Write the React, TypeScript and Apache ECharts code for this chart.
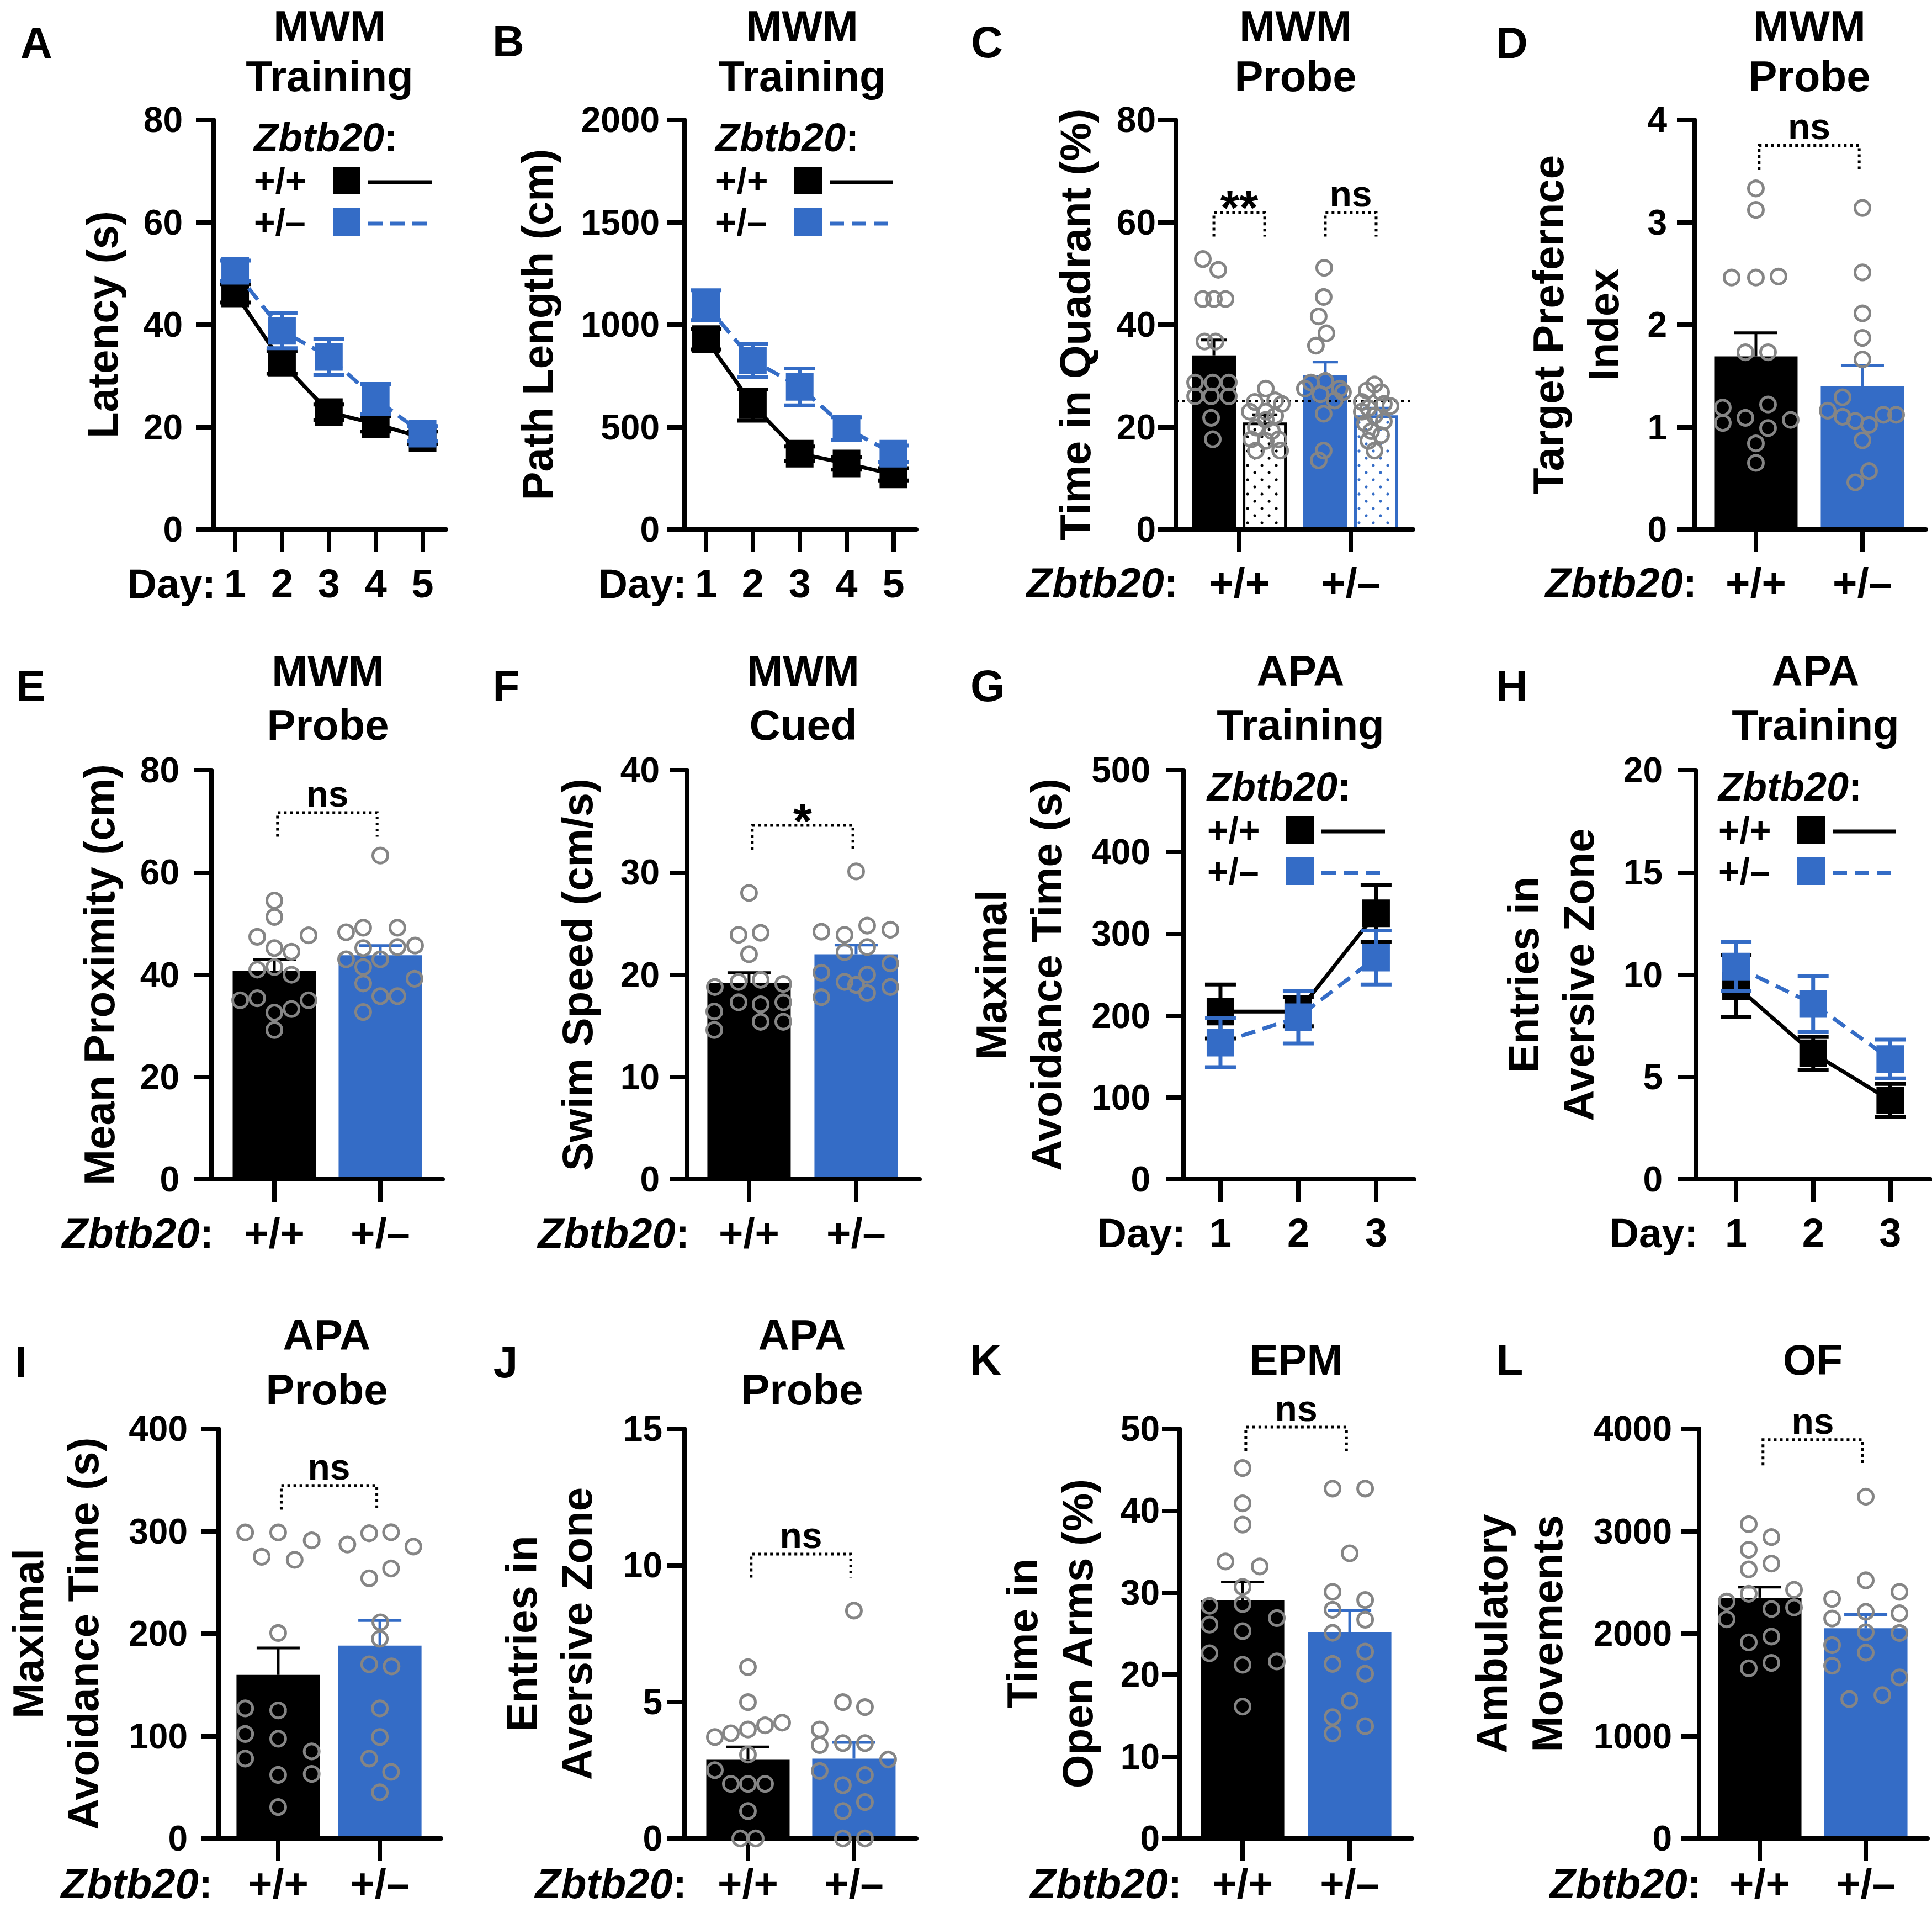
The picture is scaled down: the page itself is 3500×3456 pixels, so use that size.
import React, { useEffect, useRef } from "react";
import * as echarts from "echarts";

const W = 3500;
const H = 3456;
const BLACK = "#000000";
const BLUE = "#346cc6";
const GRAY = "#858585";
const FONT = "'Liberation Sans', Arial, Helvetica, sans-serif";

// ---------------- data ----------------
const genotypes = ["+/+", "+/–"];
const mwmDays = [1, 2, 3, 4, 5];
const apaDays = [1, 2, 3];

// A: MWM training latency (s)
const latencyWT = [46.1, 32.6, 22.9, 20.6, 17.9];
const latencyWTSem = [1.8, 2.2, 1.5, 1.5, 1.2];
const latencyHet = [50.5, 38.8, 33.7, 25.5, 18.7];
const latencyHetSem = [2.0, 3.4, 3.5, 2.9, 1.5];

// B: MWM training path length (cm)
const pathWT = [929, 607, 370, 322, 269];
const pathWTSem = [50, 76, 35, 30, 30];
const pathHet = [1095, 825, 696, 493, 370];
const pathHetSem = [73, 80, 90, 55, 40];

// C: MWM probe, time in quadrant (%): [target +/+, other +/+, target +/-, other +/-]
const quadrantMeans = [34.0, 20.9, 30.1, 22.3];
const quadrantSem = [3.0, 1.5, 2.6, 1.4];
const quadTargetWT = [52.8, 50.7, 45.0, 45.0, 45.0, 36.7, 36.7, 28.7, 28.7, 28.7, 26.0, 26.0, 26.0, 21.8, 17.6];
const quadOtherWT = [27.5, 24.9, 25.2, 23.0, 24.5, 23.0, 19.9, 19.2, 17.6, 17.6, 17.3, 15.4, 15.4, 21.4, 22.2];
const quadTargetHet = [51.1, 45.4, 41.6, 38.3, 35.9, 28.7, 29.0, 27.5, 27.5, 26.4, 25.2, 26.8, 22.6, 15.4, 13.5];
const quadOtherHet = [28.3, 27.1, 26.8, 24.9, 24.1, 23.7, 24.5, 22.2, 20.7, 21.1, 19.2, 18.4, 17.3, 15.4, 23.0];
const chanceLevel = 25;
const sigC = ["**", "ns"];

// D: target preference index
const tpiMeans = [1.69, 1.4];
const tpiSem = [0.23, 0.2];
const tpiWT = [3.33, 3.12, 2.46, 2.46, 2.47, 1.73, 1.73, 1.19, 1.22, 1.04, 1.09, 1.07, 0.99, 0.84, 0.65];
const tpiHet = [3.14, 2.51, 2.11, 1.87, 1.66, 1.29, 1.16, 1.1, 1.06, 1.02, 1.12, 1.12, 0.87, 0.57, 0.46];

// E: mean proximity (cm)
const proxMeans = [40.7, 43.8];
const proxSem = [2.3, 1.9];
const proxWT = [54.5, 51.3, 47.4, 47.7, 45.2, 44.5, 41.0, 41.5, 40.0, 35.0, 35.4, 35.0, 32.6, 33.3, 29.2];
const proxHet = [63.3, 48.3, 49.2, 49.2, 45.2, 45.4, 45.7, 43.0, 43.0, 41.5, 38.3, 39.2, 35.8, 35.8, 32.7];

// F: swim speed (cm/s)
const speedMeans = [19.2, 22.0];
const speedSem = [1.0, 0.9];
const speedWT = [28.0, 23.9, 24.1, 22.0, 18.8, 19.3, 19.5, 19.1, 17.3, 17.1, 16.4, 17.3, 14.6, 15.4, 15.4];
const speedHet = [30.1, 24.2, 23.9, 24.8, 24.4, 22.2, 22.7, 20.2, 19.0, 20.0, 21.1, 17.8, 18.2, 18.8, 19.3];

// G: APA training maximal avoidance time (s)
const avoidWT = [205, 205, 325];
const avoidWTSem = [33, 18, 35];
const avoidHet = [167, 198, 271];
const avoidHetSem = [30, 32, 33];

// H: APA training entries in aversive zone
const entriesWT = [9.45, 6.16, 3.86];
const entriesWTSem = [1.5, 0.8, 0.8];
const entriesHet = [10.4, 8.57, 5.88];
const entriesHetSem = [1.2, 1.37, 0.95];

// I: APA probe maximal avoidance time (s)
const probeAvoidMeans = [159.7, 188.3];
const probeAvoidSem = [26.3, 24.5];
const probeAvoidWT = [298.8, 298.8, 291, 275, 272, 200.6, 127, 125, 102, 97.4, 85, 78, 63, 62, 30.6];
const probeAvoidHet = [287, 298, 299, 285, 263.6, 254, 211, 195, 170, 168, 127, 99, 78, 65, 45];

// J: APA probe entries in aversive zone
const probeEntryMeans = [2.88, 2.92];
const probeEntrySem = [0.47, 0.6];
const probeEntryWT = [6.27, 4.99, 3.71, 3.85, 3.99, 4.14, 4.24, 3.07, 2.5, 2.0, 2.0, 2.0, 1.0, 0, 0];
const probeEntryHet = [8.34, 4.99, 4.81, 3.99, 3.42, 3.49, 3.49, 2.89, 2.47, 2.32, 1.95, 1.33, 1.0, 0, 0];

// K: EPM time in open arms (%)
const openArmMeans = [29.1, 25.2];
const openArmSem = [2.2, 2.6];
const openArmWT = [45.2, 40.9, 38.3, 33.8, 33.2, 30.7, 28.4, 28.6, 26.1, 26.9, 25.3, 22.6, 21.2, 21.6, 16.1];
const openArmHet = [42.7, 42.7, 34.8, 30.1, 29.1, 27.9, 26.7, 25.1, 22.8, 21.3, 20.1, 16.8, 14.8, 13.7, 12.8];

// L: OF ambulatory movements
const ambulatoryMeans = [2351, 2052];
const ambulatorySem = [103, 134];
const ambulatoryWT = [3068, 2942, 2819, 2684, 2627, 2389, 2428, 2313, 2255, 2240, 2140, 1971, 1914, 1714, 1661];
const ambulatoryHet = [3337, 2520, 2339, 2408, 2148, 2213, 2198, 2013, 2006, 1887, 1814, 1687, 1572, 1361, 1400];

// ---------------- layout (pixels) ----------------
// horizontal scatter offsets of the individual points, px
const jitQuadTargetWT = [-20, 8, -20, 0, 21, -17, 3, -34, -2, 27, -34, -5, 27, -5, -2];
const jitQuadOtherWT = [2, -18, 19, -27, 31, 2, -16, 13, -24, 25, 2, -16, 28, 2, 19];
const jitQuadTargetHet = [-2, -3, -12, 2, -17, -26, 0, 26, -37, -9, 17, 32, -3, -3, -12];
const jitQuadOtherHet = [-3, -17, 9, -26, 26, -14, 14, -3, -20, 14, -9, 9, -14, -3, -26];
const jitTpiWT = [0, 0, -44, 0, 41, -19, 22, -60, 22, -60, -19, 63, 22, 0, 0];
const jitTpiHet = [0, 0, 0, 0, 0, -36, -63, -36, -13, 12, 38, 61, 0, 12, -13];
const jitProxWT = [0, 0, -31, 62, 0, 31, -31, 0, 31, -62, -31, 62, 0, 31, 0];
const jitProxHet = [0, -62, -31, 31, -31, 31, 63, 0, -62, -31, -31, 62, 0, 31, -31];
const jitSpeedWT = [0, -19, 21, 0, -62, -19, 21, 62, -19, 21, -63, 62, -63, 21, 62];
const jitSpeedHet = [0, -63, -21, 20, 62, -21, 20, -63, 0, 20, 62, -63, 20, 62, -21];
const jitProbeAvoidWT = [-62, 0, 63, -31, 31, 0, -62, 0, -62, 0, 63, -62, 63, 0, 0];
const jitProbeAvoidHet = [-61, -20, 21, 63, 21, -20, 1, 0, -20, 22, 0, 0, -20, 21, 0];
const jitProbeEntryWT = [0, 0, -60, -31, 0, 31, 62, 0, -60, -31, 0, 31, 0, -14, 14];
const jitProbeEntryHet = [0, -20, 20, -62, -62, -20, 20, 62, -62, 20, -20, 20, -20, -20, 20];
const jitOpenArmWT = [0, 0, 0, -31, 31, 0, -60, 0, -60, 62, 0, -60, 0, 62, 0];
const jitOpenArmHet = [-31, 28, 0, -31, 28, -31, 28, -31, 28, -31, 28, 0, -31, 28, -31];
const jitAmbWT = [-20, 21, -20, 21, -20, -20, 62, -60, 62, 21, -60, 21, -20, 21, -20];
const jitAmbHet = [0, 0, -61, 61, -61, 0, 61, 0, 61, -61, 0, -61, 61, -30, 30];

const panelA = { letter: "A", letterPos: [66, 77], title: ["MWM", "Training"], titlePos: [597, 47, 138], box: { left: 387, top: 217, width: 421, height: 742 }, xMin: 0.54, xMax: 5.5, yMax: 80, yInt: 20, yName: "Latency (s)", nameGap: 151, yLabMargin: 56, xOffset: 98, prefix: "day", legend: [460, 249] };
const panelB = { letter: "B", letterPos: [921, 74], title: ["MWM", "Training"], titlePos: [1453, 47, 138], box: { left: 1240, top: 217, width: 420, height: 742 }, xMin: 0.54, xMax: 5.49, yMax: 2000, yInt: 500, yName: "Path Length (cm)", nameGap: 216, yLabMargin: 45, xOffset: 98, prefix: "day", legend: [1296, 249] };
const panelC = { letter: "C", letterPos: [1788, 76], title: ["MWM", "Probe"], titlePos: [2347, 47, 138], box: { left: 2130, top: 217, width: 430, height: 742 }, xMin: 0.43, xMax: 2.56, yMax: 80, yInt: 20, yName: "Time in Quadrant (%)", nameGap: 132, yLabMargin: 36, xOffset: 96, prefix: "geno" };
const panelD = { letter: "D", letterPos: [2739, 77], title: ["MWM", "Probe"], titlePos: [3278, 47, 138], box: { left: 3070, top: 217, width: 419, height: 742 }, xMin: 0.425, xMax: 2.596, yMax: 4, yInt: 1, yName: "Target Prefernce\nIndex", nameGap: 115, yLabMargin: 50, xOffset: 96, prefix: "geno" };
const panelE = { letter: "E", letterPos: [56, 1242], title: ["MWM", "Probe"], titlePos: [594, 1215, 1313], box: { left: 383, top: 1395, width: 419, height: 741 }, xMin: 0.406, xMax: 2.589, yMax: 80, yInt: 20, yName: "Mean Proximity (cm)", nameGap: 153, yLabMargin: 58, xOffset: 97, prefix: "geno" };
const panelF = { letter: "F", letterPos: [917, 1242], title: ["MWM", "Cued"], titlePos: [1455, 1215, 1313], box: { left: 1245, top: 1395, width: 421, height: 741 }, xMin: 0.423, xMax: 2.593, yMax: 40, yInt: 10, yName: "Swim Speed (cm/s)", nameGap: 149, yLabMargin: 50, xOffset: 97, prefix: "geno" };
const panelG = { letter: "G", letterPos: [1789, 1242], title: ["APA", "Training"], titlePos: [2356, 1215, 1313], box: { left: 2144, top: 1395, width: 418, height: 741 }, xMin: 0.525, xMax: 3.49, yMax: 500, yInt: 100, yName: "Maximal\nAvoidance Time (s)", nameGap: 198, yLabMargin: 60, xOffset: 97, prefix: "day", legend: [2187, 1425] };
const panelH = { letter: "H", letterPos: [2739, 1242], title: ["APA", "Training"], titlePos: [3289, 1215, 1313], box: { left: 3072, top: 1395, width: 425, height: 741 }, xMin: 0.477, xMax: 3.52, yMax: 20, yInt: 5, yName: "Entries in\nAversive Zone", nameGap: 162, yLabMargin: 60, xOffset: 97, prefix: "day", legend: [3113, 1425] };
const panelI = { letter: "I", letterPos: [38, 2467], title: ["APA", "Probe"], titlePos: [592, 2418, 2517], box: { left: 381, top: 2588, width: 418, height: 742 }, xMin: 0.414, xMax: 2.602, yMax: 400, yInt: 100, yName: "Maximal\nAvoidance Time (s)", nameGap: 195, yLabMargin: 56, xOffset: 81, prefix: "geno" };
const panelJ = { letter: "J", letterPos: [916, 2467], title: ["APA", "Probe"], titlePos: [1453, 2418, 2517], box: { left: 1240, top: 2588, width: 420, height: 742 }, xMin: 0.401, xMax: 2.589, yMax: 15, yInt: 5, yName: "Entries in\nAversive Zone", nameGap: 145, yLabMargin: 40, xOffset: 81, prefix: "geno" };
const panelK = { letter: "K", letterPos: [1786, 2463], title: ["EPM"], titlePos: [2348, 2463], box: { left: 2137, top: 2588, width: 421, height: 742 }, xMin: 0.412, xMax: 2.582, yMax: 50, yInt: 10, yName: "Time in\nOpen Arms (%)", nameGap: 135, yLabMargin: 36, xOffset: 81, prefix: "geno" };
const panelL = { letter: "L", letterPos: [2735, 2463], title: ["OF"], titlePos: [3284, 2463], box: { left: 3078, top: 2588, width: 414, height: 742 }, xMin: 0.427, xMax: 2.583, yMax: 4000, yInt: 1000, yName: "Ambulatory\nMovements", nameGap: 225, yLabMargin: 49, xOffset: 81, prefix: "geno" };

function buildOption() {
  const grid: any[] = [];
  const xAxis: any[] = [];
  const yAxis: any[] = [];
  const series: any[] = [];
  const graphic: any[] = [];

  const boldText = (text: string, x: number, y: number, size: number, extra: any = {}) => ({
    type: "text",
    x,
    y,
    silent: true,
    z: 100,
    style: {
      text,
      fill: BLACK,
      fontSize: size,
      fontWeight: "bold",
      fontFamily: FONT,
      lineHeight: Math.round(size * 0.92),
      align: "center",
      verticalAlign: "middle",
      textAlign: "center",
      textVerticalAlign: "middle",
      ...extra,
    },
  });

  const makeGenoRich = (size: number) => ({
    i: { fontStyle: "italic", fontWeight: "bold", fontSize: size, fontFamily: FONT, fill: BLACK, color: BLACK, lineHeight: Math.round(size * 0.9) },
    b: { fontWeight: "bold", fontSize: size, fontFamily: FONT, fill: BLACK, color: BLACK, lineHeight: Math.round(size * 0.9) },
  });

  function addCart(p: any, xTicks: number[], xLabels: string[], xLabelSize: number) {
    const gi = grid.length;
    grid.push({ left: p.box.left, top: p.box.top, width: p.box.width, height: p.box.height, containLabel: false });
    xAxis.push({
      gridIndex: gi,
      type: "value",
      min: p.xMin,
      max: p.xMax,
      z: 3,
      axisLine: { show: true, onZero: false, lineStyle: { color: BLACK, width: 8 } },
      axisTick: { show: true, inside: false, length: 41, lineStyle: { color: BLACK, width: 8 }, customValues: xTicks },
      axisLabel: {
        show: true,
        customValues: xTicks,
        formatter: (v: number) => {
          const k = xTicks.indexOf(v);
          return k >= 0 ? xLabels[k] : "";
        },
        margin: p.xOffset - 34,
        color: BLACK,
        fontSize: xLabelSize,
        lineHeight: 68,
        fontWeight: "bold",
        fontFamily: FONT,
      },
      splitLine: { show: false },
    });
    yAxis.push({
      gridIndex: gi,
      type: "value",
      min: 0,
      max: p.yMax,
      interval: p.yInt,
      z: 3,
      axisLine: { show: true, lineStyle: { color: BLACK, width: 8 } },
      axisTick: { show: true, inside: false, length: 32, lineStyle: { color: BLACK, width: 8 } },
      axisLabel: {
        margin: p.yLabMargin,
        color: BLACK,
        fontSize: 64,
        fontWeight: "bold",
        fontFamily: FONT,
        formatter: (v: number) => String(v),
      },
      splitLine: { show: false },
      name: p.yName,
      nameLocation: "middle",
      nameRotate: 90,
      nameGap: p.nameGap,
      nameTextStyle: { color: BLACK, fontSize: 78, fontWeight: "bold", fontFamily: FONT, lineHeight: 100 },
    });

    graphic.push(boldText(p.letter, p.letterPos[0], p.letterPos[1], 80));
    p.title.forEach((t: string, k: number) => {
      graphic.push(boldText(t, p.titlePos[0], p.titlePos[1 + k], 78, { lineHeight: 76 }));
    });
    const py = p.box.top + p.box.height + p.xOffset;
    const px = p.box.left + 4;
    if (p.prefix === "day") {
      graphic.push(boldText("Day:", px, py, 74, { align: "right", textAlign: "right", lineHeight: 68 }));
    } else {
      graphic.push(
        boldText("{i|Zbtb20}{b|:}", px, py, 76, { align: "right", textAlign: "right", rich: makeGenoRich(76), lineHeight: 68 })
      );
    }
    return gi;
  }

  function errSeries(gi: number, xs: number[], means: number[], sems: number[], colors: any, capW: number, lw: number, upOnly: boolean, z: number) {
    return {
      type: "custom",
      xAxisIndex: gi,
      yAxisIndex: gi,
      z,
      silent: true,
      data: xs.map((x, i) => [x, means[i], sems[i]]),
      encode: { x: 0, y: [1] },
      renderItem: (params: any, api: any) => {
        const x = api.value(0);
        const m = api.value(1);
        const s = api.value(2);
        const col = Array.isArray(colors) ? colors[params.dataIndex] : colors;
        const hi = api.coord([x, m + s]);
        const lo = api.coord([x, upOnly ? m : m - s]);
        const h = capW / 2;
        const st = { stroke: col, lineWidth: lw };
        const children: any[] = [
          { type: "line", shape: { x1: hi[0], y1: hi[1], x2: lo[0], y2: lo[1] }, style: st },
          { type: "line", shape: { x1: hi[0] - h, y1: hi[1], x2: hi[0] + h, y2: hi[1] }, style: st },
        ];
        if (!upOnly) {
          children.push({ type: "line", shape: { x1: lo[0] - h, y1: lo[1], x2: lo[0] + h, y2: lo[1] }, style: st });
        }
        return { type: "group", children };
      },
    };
  }

  function bracketSeries(gi: number, x1: number, x2: number, yTop: number, yLeg: number, label: string) {
    const isStar = label.indexOf("*") >= 0;
    return {
      type: "custom",
      xAxisIndex: gi,
      yAxisIndex: gi,
      z: 8,
      silent: true,
      clip: false,
      data: [[x1, x2, yTop, yLeg]],
      encode: { x: [0, 1], y: [2, 3] },
      renderItem: (params: any, api: any) => {
        const a = api.coord([api.value(0), api.value(3)]);
        const b = api.coord([api.value(0), api.value(2)]);
        const c = api.coord([api.value(1), api.value(2)]);
        const d = api.coord([api.value(1), api.value(3)]);
        const size = isStar ? 88 : 66;
        const dy = isStar ? -9 : -34;
        return {
          type: "group",
          children: [
            { type: "polyline", shape: { points: [a, b, c, d] }, style: { stroke: BLACK, lineWidth: 5, lineDash: [5, 6], fill: "none" } },
            {
              type: "text",
              x: (b[0] + c[0]) / 2,
              y: b[1] + dy,
              style: {
                text: label,
                fill: BLACK,
                fontSize: size,
                fontWeight: "bold",
                fontFamily: FONT,
                lineHeight: isStar ? 50 : 56,
                align: "center",
                verticalAlign: "middle",
                textAlign: "center",
                textVerticalAlign: "middle",
              },
            },
          ],
        };
      },
    };
  }

  function pointSeries(gi: number, p: any, center: number, values: number[], jit: number[]) {
    const unit = p.box.width / (p.xMax - p.xMin);
    return {
      type: "scatter",
      xAxisIndex: gi,
      yAxisIndex: gi,
      z: 6,
      silent: true,
      clip: false,
      symbol: "circle",
      symbolSize: 27,
      itemStyle: { color: "rgba(255,255,255,0)", borderColor: GRAY, borderWidth: 5, opacity: 1 },
      data: values.map((v, i) => [center + jit[i] / unit, v]),
    };
  }

  function linePanel(p: any, days: number[], wt: number[], wtSem: number[], het: number[], hetSem: number[]) {
    const gi = addCart(p, days, days.map(String), 72);
    series.push(errSeries(gi, days, wt, wtSem, BLACK, 56, 7, false, 4));
    series.push({
      type: "line",
      xAxisIndex: gi,
      yAxisIndex: gi,
      z: 5,
      silent: true,
      data: days.map((d, i) => [d, wt[i]]),
      symbol: "rect",
      symbolSize: 50,
      showSymbol: true,
      itemStyle: { color: BLACK, borderWidth: 0 },
      lineStyle: { color: BLACK, width: 7, type: "solid" },
    });
    series.push(errSeries(gi, days, het, hetSem, BLUE, 56, 7, false, 6));
    series.push({
      type: "line",
      xAxisIndex: gi,
      yAxisIndex: gi,
      z: 7,
      silent: true,
      data: days.map((d, i) => [d, het[i]]),
      symbol: "rect",
      symbolSize: 50,
      showSymbol: true,
      itemStyle: { color: BLUE, borderWidth: 0 },
      lineStyle: { color: BLUE, width: 7, type: [26, 14] },
    });
    // legend
    const [lx, ly] = p.legend;
    graphic.push(boldText("{i|Zbtb20}{b|:}", lx, ly, 72, { align: "left", textAlign: "left", rich: makeGenoRich(72), lineHeight: 64 }));
    const rows = [
      { label: genotypes[0], color: BLACK, dash: null, dy: 78 },
      { label: genotypes[1], color: BLUE, dash: [26, 14], dy: 153 },
    ];
    rows.forEach((r) => {
      const y = ly + r.dy;
      graphic.push(boldText(r.label, lx, y, 66, { align: "left", textAlign: "left", lineHeight: 60 }));
      graphic.push({ type: "rect", silent: true, z: 100, shape: { x: lx + 143, y: y - 25, width: 50, height: 50 }, style: { fill: r.color } });
      graphic.push({
        type: "line",
        silent: true,
        z: 100,
        shape: { x1: lx + 207, y1: y + 3, x2: lx + 322, y2: y + 3 },
        style: { stroke: r.color, lineWidth: 7, lineDash: r.dash || undefined },
      });
    });
  }

  function barPanel(p: any, means: number[], sems: number[], wt: number[], het: number[], jitWT: number[], jitHet: number[], bracket: any) {
    const gi = addCart(p, [1, 2], genotypes, 76);
    const xs = [1, 2];
    const colors = [BLACK, BLUE];
    series.push({
      type: "bar",
      xAxisIndex: gi,
      yAxisIndex: gi,
      z: 2,
      silent: true,
      barWidth: 151,
      data: xs.map((x, i) => ({ value: [x, means[i]], itemStyle: { color: colors[i] } })),
    });
    series.push(errSeries(gi, xs, means, sems, colors, 78, 5, true, 4));
    series.push(pointSeries(gi, p, 1, wt, jitWT));
    series.push(pointSeries(gi, p, 2, het, jitHet));
    series.push(bracketSeries(gi, 1.03, 1.97, bracket[0], bracket[1], bracket[2]));
  }

  // ---- row 1
  linePanel(panelA, mwmDays, latencyWT, latencyWTSem, latencyHet, latencyHetSem);
  linePanel(panelB, mwmDays, pathWT, pathWTSem, pathHet, pathHetSem);

  // C: four bars
  {
    const p = panelC;
    const gi = addCart(p, [1, 2], genotypes, 76);
    const off = 0.228;
    const xs = [1 - off, 1 + off, 2 - off, 2 + off];
    const cols = [BLACK, BLACK, BLUE, BLUE];
    const styles = [
      { color: BLACK },
      { color: "#ffffff", borderColor: BLACK, borderWidth: 5 },
      { color: BLUE },
      { color: "#ffffff", borderColor: BLUE, borderWidth: 5 },
    ];
    series.push({
      type: "bar",
      xAxisIndex: gi,
      yAxisIndex: gi,
      z: 2,
      silent: true,
      barWidth: 80,
      data: xs.map((x, i) => ({ value: [x, quadrantMeans[i]], itemStyle: styles[i] })),
      markLine: {
        silent: true,
        symbol: ["none", "none"],
        label: { show: false },
        lineStyle: { color: BLACK, type: [5, 7], width: 4 },
        data: [{ yAxis: chanceLevel }],
      },
    });
    // dotted texture inside the "other quadrants" bars
    series.push({
      type: "custom",
      xAxisIndex: gi,
      yAxisIndex: gi,
      z: 3,
      silent: true,
      data: [
        [xs[1], quadrantMeans[1], 0],
        [xs[3], quadrantMeans[3], 1],
      ],
      encode: { x: 0, y: 1 },
      renderItem: (params: any, api: any) => {
        const x = api.value(0);
        const v = api.value(1);
        const col = api.value(2) === 0 ? BLACK : BLUE;
        const top = api.coord([x, v]);
        const bot = api.coord([x, 0]);
        const half = 40 - 9;
        const kids: any[] = [];
        let row = 0;
        for (let y = bot[1] - 12; y > top[1] + 8; y -= 13, row++) {
          const start = top[0] - half + (row % 2 ? 13 : 0);
          for (let xx = start; xx <= top[0] + half + 0.5; xx += 26) {
            kids.push({ type: "circle", shape: { cx: xx, cy: y, r: 2.6 }, style: { fill: col } });
          }
        }
        return { type: "group", children: kids };
      },
    });
    series.push(errSeries(gi, xs, quadrantMeans, quadrantSem, cols, 46, 5, true, 4));
    series.push(pointSeries(gi, p, xs[0], quadTargetWT, jitQuadTargetWT));
    series.push(pointSeries(gi, p, xs[1], quadOtherWT, jitQuadOtherWT));
    series.push(pointSeries(gi, p, xs[2], quadTargetHet, jitQuadTargetHet));
    series.push(pointSeries(gi, p, xs[3], quadOtherHet, jitQuadOtherHet));
    series.push(bracketSeries(gi, xs[0], xs[1], 61.9, 57.2, sigC[0]));
    series.push(bracketSeries(gi, xs[2], xs[3], 61.9, 57.2, sigC[1]));
  }

  barPanel(panelD, tpiMeans, tpiSem, tpiWT, tpiHet, jitTpiWT, jitTpiHet, [3.75, 3.51, "ns"]);

  // ---- row 2
  barPanel(panelE, proxMeans, proxSem, proxWT, proxHet, jitProxWT, jitProxHet, [71.7, 67.0, "ns"]);
  barPanel(panelF, speedMeans, speedSem, speedWT, speedHet, jitSpeedWT, jitSpeedHet, [34.6, 32.2, "*"]);
  linePanel(panelG, apaDays, avoidWT, avoidWTSem, avoidHet, avoidHetSem);
  linePanel(panelH, apaDays, entriesWT, entriesWTSem, entriesHet, entriesHetSem);

  // ---- row 3
  barPanel(panelI, probeAvoidMeans, probeAvoidSem, probeAvoidWT, probeAvoidHet, jitProbeAvoidWT, jitProbeAvoidHet, [344.6, 321, "ns"]);
  barPanel(panelJ, probeEntryMeans, probeEntrySem, probeEntryWT, probeEntryHet, jitProbeEntryWT, jitProbeEntryHet, [10.41, 9.55, "ns"]);
  barPanel(panelK, openArmMeans, openArmSem, openArmWT, openArmHet, jitOpenArmWT, jitOpenArmHet, [50.2, 47.3, "ns"]);
  barPanel(panelL, ambulatoryMeans, ambulatorySem, ambulatoryWT, ambulatoryHet, jitAmbWT, jitAmbHet, [3893, 3643, "ns"]);

  return {
    animation: false,
    backgroundColor: "#ffffff",
    textStyle: { fontFamily: FONT },
    grid,
    xAxis,
    yAxis,
    series,
    graphic,
  };
}

export default function App() {
  const ref = useRef<HTMLDivElement>(null);
  useEffect(() => {
    document.body.style.margin = "0";
    const chart = echarts.init(ref.current as HTMLDivElement, undefined, { renderer: "svg", width: W, height: H });
    chart.setOption(buildOption());
    return () => {
      chart.dispose();
    };
  }, []);
  return <div ref={ref} style={{ width: W, height: H, background: "#ffffff" }} />;
}
